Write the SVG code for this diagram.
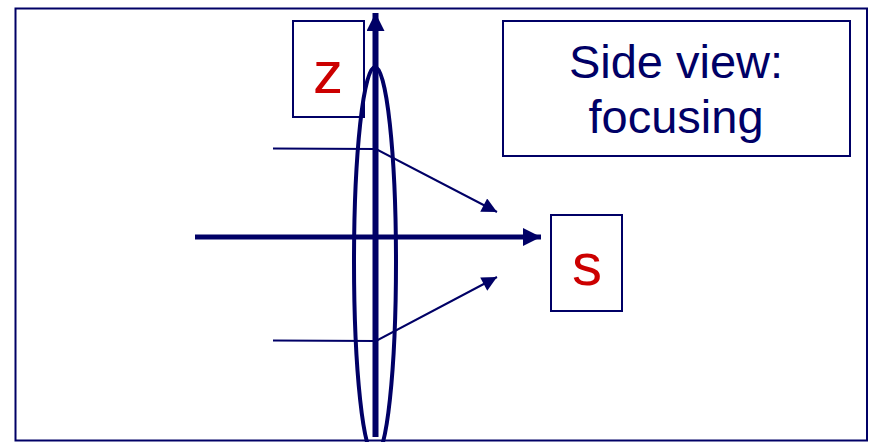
<svg xmlns="http://www.w3.org/2000/svg" width="873" height="442" viewBox="0 0 873 442">
<defs>
<style>
.box{fill:#fff;stroke:#000066;stroke-width:2}
.lbl{font-family:"Liberation Sans",Arial,sans-serif;fill:#CC0000;font-size:60px;text-anchor:middle}
.title{font-family:"Liberation Sans",Arial,sans-serif;fill:#000066;font-size:47px;text-anchor:middle}
.ray{fill:none;stroke:#000066;stroke-width:2}
.axis{fill:none;stroke:#000066}
</style>
<marker id="big" viewBox="0 0 10 10" refX="10" refY="5" markerUnits="userSpaceOnUse" markerWidth="18" markerHeight="18" orient="auto">
<path d="M0,0 L10,5 L0,10 z" fill="#000066"/>
</marker>
<marker id="small" viewBox="0 0 10 10" refX="10" refY="5" markerUnits="userSpaceOnUse" markerWidth="17" markerHeight="15" orient="auto">
<path d="M0,0 L10,5 L0,10 z" fill="#000066"/>
</marker>
</defs>
<rect x="0" y="0" width="873" height="442" fill="#fff"/>
<rect id="frame" x="15.5" y="8.5" width="851.5" height="432" fill="none" stroke="#000066" stroke-width="2"/>
<g id="title">
<rect class="box" x="503" y="21" width="347" height="135"/>
<text class="title" x="676" y="78">Side view:</text>
<text class="title" x="676" y="133">focusing</text>
</g>
<g id="z-label">
<rect class="box" x="293" y="21" width="71" height="96"/>
<text class="lbl" x="328" y="93">z</text>
</g>
<g id="s-label">
<rect class="box" x="551" y="215" width="71" height="96"/>
<text class="lbl" x="587" y="285">s</text>
</g>
<g id="connectors">
<ellipse id="lens" cx="375" cy="262" rx="21" ry="195" fill="none" stroke="#000066" stroke-width="4"/>
<line class="axis" x1="375.5" y1="437" x2="375.5" y2="13" stroke-width="6" marker-end="url(#big)"/>
<line class="axis" x1="195" y1="237" x2="541" y2="237" stroke-width="5" marker-end="url(#big)"/>
<polyline class="ray" points="273,148.5 376,149 497,212" marker-end="url(#small)"/>
<polyline class="ray" points="273,340.5 376,341 497,277" marker-end="url(#small)"/>
</g>
</svg>
